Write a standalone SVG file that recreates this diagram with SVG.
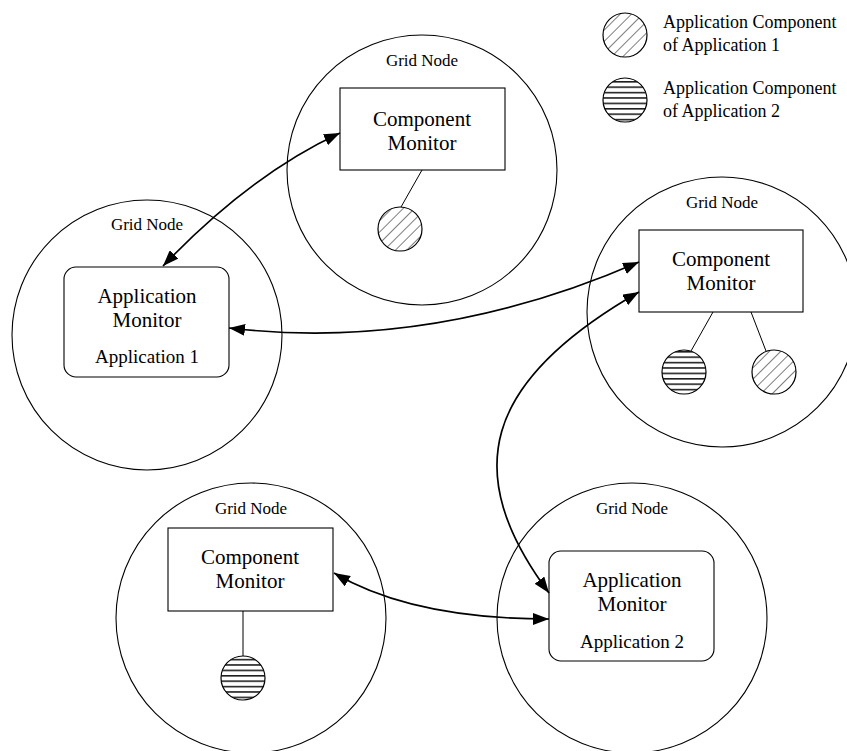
<svg xmlns="http://www.w3.org/2000/svg" width="847" height="751" viewBox="0 0 847 751">
<defs>
<style>
.grid{fill:none;stroke:#000;stroke-width:1.1}
.box{fill:#fff;stroke:#000;stroke-width:1.1}
.link{fill:none;stroke:#000;stroke-width:1}
.conn{fill:none;stroke:#000;stroke-width:1.7;marker-start:url(#ah);marker-end:url(#ah)}
.t{font-family:"Liberation Serif","Times New Roman",serif;fill:#000;text-anchor:middle}
.gn{font-size:17px}
.big{font-size:21px}
.sub{font-size:19px}
.leg{font-family:"Liberation Serif","Times New Roman",serif;font-size:18px;fill:#000}
.c1{fill:url(#diag);stroke:#000;stroke-width:1.2}
.c2{fill:url(#horiz);stroke:#000;stroke-width:1.2}
</style>
<pattern id="diag" patternUnits="userSpaceOnUse" width="8" height="8" patternTransform="rotate(45)">
<rect width="8" height="8" fill="#fff"/>
<line x1="0" y1="0" x2="0" y2="8" stroke="#000" stroke-width="1"/>
</pattern>
<pattern id="horiz" patternUnits="userSpaceOnUse" width="10" height="5.4">
<rect width="10" height="5.4" fill="#fff"/>
<line x1="0" y1="0.8" x2="10" y2="0.8" stroke="#000" stroke-width="1.4"/>
</pattern>
<marker id="ah" markerUnits="userSpaceOnUse" markerWidth="16" markerHeight="12" viewBox="0 0 16 12" refX="16" refY="6" orient="auto-start-reverse">
<path d="M0,0 L16,6 L0,12 z" fill="#000"/>
</marker>
</defs>
<rect width="847" height="751" fill="#fff"/>

<g id="legend">
<circle class="c1" cx="625" cy="35" r="22"/>
<text class="leg" x="663" y="28">Application Component</text>
<text class="leg" x="663" y="51">of Application 1</text>
<circle class="c2" cx="625" cy="100" r="22"/>
<text class="leg" x="663" y="94">Application Component</text>
<text class="leg" x="663" y="117">of Application 2</text>
</g>

<g id="node-top">
<circle class="grid" cx="422" cy="170" r="135"/>
<text class="t gn" x="422" y="66">Grid Node</text>
<rect class="box" x="340" y="88" width="165" height="82"/>
<text class="t big" x="422" y="126">Component</text>
<text class="t big" x="422" y="150">Monitor</text>
<line class="link" x1="422" y1="170" x2="401" y2="207"/>
<circle class="c1" cx="400" cy="229" r="22"/>
</g>

<g id="node-left">
<circle class="grid" cx="147" cy="335" r="135"/>
<text class="t gn" x="147" y="230">Grid Node</text>
<rect class="box" x="64" y="267" width="165" height="110" rx="12"/>
<text class="t big" x="147" y="303">Application</text>
<text class="t big" x="147" y="327">Monitor</text>
<text class="t sub" x="147" y="363">Application 1</text>
</g>

<g id="node-right">
<circle class="grid" cx="722" cy="312" r="135"/>
<text class="t gn" x="722" y="208">Grid Node</text>
<rect class="box" x="639" y="230" width="164" height="82"/>
<text class="t big" x="721" y="266">Component</text>
<text class="t big" x="721" y="290">Monitor</text>
<line class="link" x1="713" y1="312" x2="691" y2="351"/>
<line class="link" x1="751" y1="312" x2="766" y2="351"/>
<circle class="c2" cx="684" cy="372" r="22"/>
<circle class="c1" cx="774" cy="372" r="22"/>
</g>

<g id="node-bottom-left">
<circle class="grid" cx="251" cy="618" r="135"/>
<text class="t gn" x="251" y="514">Grid Node</text>
<rect class="box" x="168" y="528" width="165" height="83"/>
<text class="t big" x="250" y="564">Component</text>
<text class="t big" x="250" y="588">Monitor</text>
<line class="link" x1="243" y1="611" x2="243" y2="656"/>
<circle class="c2" cx="243" cy="678" r="22"/>
</g>

<g id="node-bottom-right">
<circle class="grid" cx="632" cy="618" r="135"/>
<text class="t gn" x="632" y="514">Grid Node</text>
<rect class="box" x="549" y="551" width="165" height="110" rx="12"/>
<text class="t big" x="632" y="587">Application</text>
<text class="t big" x="632" y="611">Monitor</text>
<text class="t sub" x="632" y="648">Application 2</text>
</g>

<g id="connectors">
<path class="conn" d="M340,133 Q250.5,174.5 163,266"/>
<path class="conn" d="M229,328 Q432.5,352 639,262"/>
<path class="conn" d="M639,292 C482,382 460,473 549,593"/>
<path class="conn" d="M334,573 Q412,619 549,619"/>
</g>
</svg>
